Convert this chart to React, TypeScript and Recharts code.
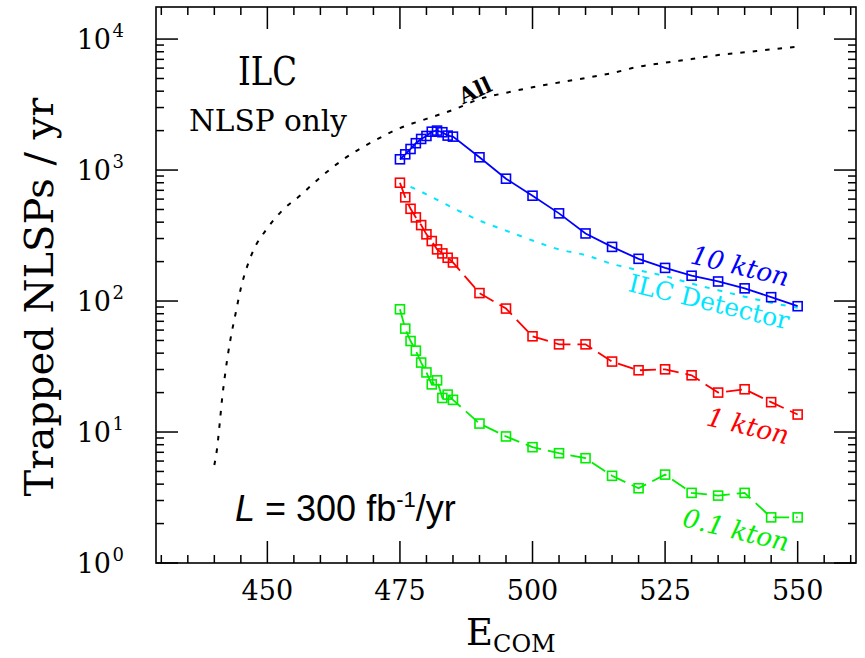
import React from "react";
import { LineChart, Line, XAxis, YAxis } from "recharts";

// ---- data ----
const energies = [475, 476, 477, 478, 479, 480, 481, 482, 483, 484, 485, 490, 495, 500, 505, 510, 515, 520, 525, 530, 535, 540, 545, 550];
const tenKton = [1208, 1318, 1448, 1603, 1727, 1820, 1963, 2000, 1944, 1832, 1799, 1251, 859, 637, 467, 328, 259, 210, 179, 156, 141, 125, 107, 91.3];
const oneKton = [800, 619, 506, 435, 380, 323, 287, 248, 231, 214, 197, 115, 87.6, 53.8, 46.7, 46.7, 34.5, 29.6, 30.1, 27.1, 20.0, 21.2, 16.9, 13.6];
const tenthKton = [86.5, 61.6, 49.5, 41.8, 33.9, 28.5, 23.1, 24.8, 18.2, 19.3, 17.6, 11.6, 9.25, 7.66, 6.89, 6.31, 4.63, 3.72, 4.73, 3.43, 3.27, 3.43, 2.23, 2.23];

const detectorE = [477, 480, 483, 486, 490, 495, 500, 505, 510, 515, 520, 525, 530, 535, 540, 545, 550];
const detectorVals = [745, 653, 565, 490, 412, 345, 290, 248, 224, 192, 172, 155, 136, 121, 108, 97, 89];

const allE = [440, 440.5, 441, 441.5, 442, 443, 444, 445, 447, 450, 453, 456, 460, 465, 470, 475, 480, 485, 490, 495, 500, 505, 510, 515, 520, 525, 530, 535, 540, 545, 550];
const allVals = [5.6, 7.4, 11.5, 18.5, 27, 50, 80, 125, 225, 360, 500, 630, 880, 1260, 1660, 2090, 2460, 2880, 3480, 3890, 4280, 4660, 5040, 5500, 6150, 6600, 7030, 7550, 7920, 8350, 8730];

const xMajorTicks = [450, 475, 500, 525, 550];
const xMinorTicks = [430, 435, 440, 445, 455, 460, 465, 470, 480, 485, 490, 495, 505, 510, 515, 520, 530, 535, 540, 545, 555, 560];
const yMajorTicks = [1, 10, 100, 1000, 10000];
const yMinorTicks = [2, 3, 4, 5, 6, 7, 8, 9, 20, 30, 40, 50, 60, 70, 80, 90, 200, 300, 400, 500, 600, 700, 800, 900, 2000, 3000, 4000, 5000, 6000, 7000, 8000, 9000];

const xDomain = [429, 561];
const yDomain = [1, 17570];

// ---- layout ----
const W = 865;
const H = 658;
const PLOT = { left: 156, right: 856, top: 7, bottom: 563 };
const MAJOR_LEN = 22;
const MINOR_LEN = 8;
const TICK_W = 1.5;
const SERIF = "DejaVu Serif";

const toRows = (xs: number[], ys: number[]) => xs.map((e, i) => ({ e, v: ys[i] }));
const rows10 = toRows(energies, tenKton);
const rows1 = toRows(energies, oneKton);
const rows01 = toRows(energies, tenthKton);
const rowsDet = toRows(detectorE, detectorVals);
const rowsAll = toRows(allE, allVals);

// frame-tick placement: same linear / log mapping as the chart axes (domain -> plot box)
const xPix = (v: number) => PLOT.left + ((v - xDomain[0]) / (xDomain[1] - xDomain[0])) * (PLOT.right - PLOT.left);
const yPix = (v: number) =>
  PLOT.bottom - ((Math.log10(v) - Math.log10(yDomain[0])) / (Math.log10(yDomain[1]) - Math.log10(yDomain[0]))) * (PLOT.bottom - PLOT.top);

const FrameTicks = () => {
  const out: React.ReactNode[] = [];
  [...xMajorTicks, ...xMinorTicks].forEach((v) => {
    const len = xMajorTicks.includes(v) ? MAJOR_LEN : MINOR_LEN;
    const x = xPix(v);
    out.push(<rect key={`b${v}`} x={x - TICK_W / 2} y={PLOT.bottom - len} width={TICK_W} height={len} fill="#000" />);
    out.push(<rect key={`t${v}`} x={x - TICK_W / 2} y={PLOT.top} width={TICK_W} height={len} fill="#000" />);
  });
  [...yMajorTicks, ...yMinorTicks].forEach((v) => {
    const len = yMajorTicks.includes(v) ? MAJOR_LEN : MINOR_LEN;
    const y = yPix(v);
    out.push(<rect key={`l${v}`} x={PLOT.left} y={y - TICK_W / 2} width={len} height={TICK_W} fill="#000" />);
    out.push(<rect key={`r${v}`} x={PLOT.right - len} y={y - TICK_W / 2} width={len} height={TICK_W} fill="#000" />);
  });
  return <g className="frame-ticks">{out}</g>;
};

const squareDot = (color: string) => (props: any) => {
  const { cx, cy, index } = props;
  if (cx == null || cy == null) return <g key={index} />;
  return (
    <rect key={index} x={cx - 4.5} y={cy - 4.5} width={9} height={9} fill="none" stroke={color} strokeWidth={1.6} />
  );
};

const XLabel = (props: any) => {
  const { x, y, payload } = props;
  return (
    <text x={x} y={y + 37} textAnchor="middle" fontFamily={SERIF} fontSize={27} fill="#000">
      {payload.value}
    </text>
  );
};

const YLabel = (props: any) => {
  const { x, y, payload } = props;
  const exp = Math.round(Math.log10(payload.value));
  return (
    <g fontFamily={SERIF} fill="#000">
      <text x={x - 45} y={y + 10} textAnchor="end" fontSize={27}>
        10
      </text>
      <text x={x - 43.5} y={y - 2} textAnchor="start" fontSize={18}>
        {exp}
      </text>
    </g>
  );
};

export default function App() {
  return (
    <div style={{ position: "absolute", left: 0, top: 0, width: W, height: H, background: "#fff" }}>
      <LineChart
        width={W}
        height={H}
        margin={{ top: PLOT.top, right: W - PLOT.right, bottom: H - PLOT.bottom - 40, left: PLOT.left - 60 }}
      >
        <XAxis
          xAxisId="x"
          type="number"
          dataKey="e"
          domain={xDomain}
          allowDataOverflow
          ticks={xMajorTicks}
          interval={0}
          tick={<XLabel />}
          tickLine={false}
          axisLine={false}
          tickSize={0}
          tickMargin={0}
          height={40}
        />
        <YAxis
          yAxisId="y"
          type="number"
          scale="log"
          domain={yDomain}
          allowDataOverflow
          ticks={yMajorTicks}
          interval={0}
          tick={<YLabel />}
          tickLine={false}
          axisLine={false}
          tickSize={0}
          tickMargin={0}
          width={60}
        />

        <rect x={PLOT.left} y={PLOT.top} width={PLOT.right - PLOT.left} height={PLOT.bottom - PLOT.top} fill="none" stroke="#000" strokeWidth={1.6} />
        <FrameTicks />

        <Line xAxisId="x" yAxisId="y" data={rowsAll} dataKey="v" type="monotone" stroke="#000" strokeWidth={2} strokeDasharray="4.5 8" dot={false} isAnimationActive={false} />
        <Line xAxisId="x" yAxisId="y" data={rowsDet} dataKey="v" type="monotone" stroke="#00e6ff" strokeWidth={2} strokeDasharray="5 8" dot={false} isAnimationActive={false} />
        <Line xAxisId="x" yAxisId="y" data={rows10} dataKey="v" type="linear" stroke="#0000ff" strokeWidth={1.8} dot={squareDot("#0000ff")} isAnimationActive={false} />
        <Line xAxisId="x" yAxisId="y" data={rows1} dataKey="v" type="linear" stroke="#ff0000" strokeWidth={1.8} strokeDasharray="16 7" dot={squareDot("#ff0000")} isAnimationActive={false} />
        <Line xAxisId="x" yAxisId="y" data={rows01} dataKey="v" type="linear" stroke="#00ee00" strokeWidth={1.8} strokeDasharray="16 7" dot={squareDot("#00ee00")} isAnimationActive={false} />

        {/* annotations */}
        <text x={267.5} y={85} textAnchor="middle" fontFamily={SERIF} fontSize={40} textLength={59} lengthAdjust="spacingAndGlyphs" fill="#000">
          ILC
        </text>
        <text x={189} y={131} fontFamily={SERIF} fontSize={29} textLength={158} lengthAdjust="spacingAndGlyphs" fill="#000">
          NLSP only
        </text>
        <text transform="translate(475,90) rotate(-25)" textAnchor="middle" dominantBaseline="central" fontFamily={SERIF} fontSize={22} fontWeight="bold" fill="#000">
          All
        </text>
        <text transform="translate(740,266) rotate(13.5)" textAnchor="middle" dominantBaseline="central" fontFamily={SERIF} fontSize={26} fontStyle="italic" fill="#0000ff">
          10 kton
        </text>
        <text transform="translate(709,302) rotate(13.5)" textAnchor="middle" dominantBaseline="central" fontFamily={SERIF} fontSize={25} fill="#00e6ff">
          ILC Detector
        </text>
        <text transform="translate(748,426) rotate(13.5)" textAnchor="middle" dominantBaseline="central" fontFamily={SERIF} fontSize={26} fontStyle="italic" fill="#ff0000">
          1 kton
        </text>
        <text transform="translate(736,530) rotate(13.5)" textAnchor="middle" dominantBaseline="central" fontFamily={SERIF} fontSize={26} fontStyle="italic" fill="#00ee00">
          0.1 kton
        </text>
        <text x={235} y={521} fontFamily="Liberation Sans" fontSize={36} fill="#000">
          <tspan fontStyle="italic">L</tspan>
          <tspan> = 300 fb</tspan>
          <tspan dy={-14} fontSize={22}>-1</tspan>
          <tspan dy={14}>/yr</tspan>
        </text>

        {/* axis titles */}
        <text x={466} y={645} fontFamily={SERIF} fontSize={37} fill="#000">
          E<tspan fontSize={24} dy={7}>COM</tspan>
        </text>
        <text transform="translate(53,297) rotate(-90)" textAnchor="middle" fontFamily={SERIF} fontSize={40} fill="#000">
          Trapped NLSPs / yr
        </text>
      </LineChart>
    </div>
  );
}
